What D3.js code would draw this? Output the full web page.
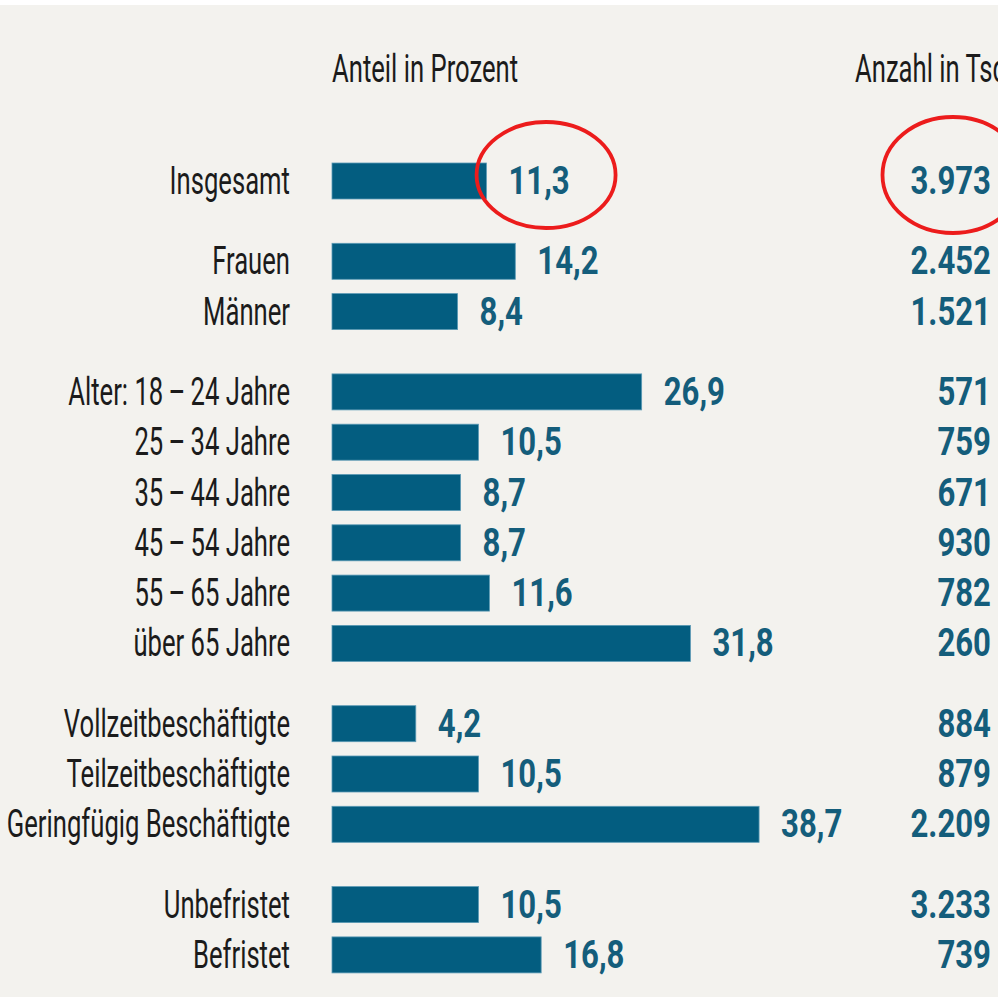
<!DOCTYPE html>
<html>
<head>
<meta charset="utf-8">
<script src="https://cdn.jsdelivr.net/npm/d3@7"></script>
<style>
  html, body { margin: 0; padding: 0; background: #ffffff; }
  svg { display: block; }
</style>
</head>
<body>
<svg id="chart" width="998" height="997"></svg>
<script>
// data
const categories = [
  "Insgesamt", "Frauen", "Männer",
  "Alter: 18\u2009–\u200924 Jahre", "25\u2009–\u200934 Jahre", "35\u2009–\u200944 Jahre",
  "45\u2009–\u200954 Jahre", "55\u2009–\u200965 Jahre", "über 65 Jahre",
  "Vollzeitbeschäftigte", "Teilzeitbeschäftigte", "Geringfügig Beschäftigte",
  "Unbefristet", "Befristet"
];
const groups = [0, 1, 1, 2, 2, 2, 2, 2, 2, 3, 3, 3, 4, 4];
const shares = [11.3, 14.2, 8.4, 26.9, 10.5, 8.7, 8.7, 11.6, 31.8, 4.2, 10.5, 38.7, 10.5, 16.8];
const counts = [3973, 2452, 1521, 571, 759, 671, 930, 782, 260, 884, 879, 2209, 3233, 739];
const headers = ["Anteil in Prozent", "Anzahl in Tsd."];
const highlighted = [0];

const W = 998, H = 997;
const FONT = "Roboto, 'Open Sans', sans-serif";
const SIZE = 38;
const K = 0.675;         // horizontal condensing, regular text
const KB = 0.82;         // horizontal condensing, bold numbers
const BLUE = "#035d80";
const TEAL = "#145d7b";
const INK = "#1b1b1b";

const de = d3.formatLocale({ decimal: ",", thousands: ".", grouping: [3], currency: ["", " €"] });
const fmtShare = de.format(".1f");
const fmtCount = de.format(",d");

const svg = d3.select("#chart");
svg.append("rect").attr("width", W).attr("height", H).attr("fill", "#f3f2ee");
svg.append("rect").attr("width", W).attr("height", 5).attr("fill", "#ffffff");

// scales
const step = 50.3, gap = 30, barH = 36, firstTop = 163;
const yTop = i => firstTop + i * step + groups[i] * gap;
const x = d3.scaleLinear().domain([0, 40]).range([374, 772]);
const stub = 42;

const rows = categories.map((c, i) => ({ c, v: shares[i], n: counts[i], i }));

function cText(sel, tx, ty, k) {
  return sel.attr("transform", `translate(${tx},${ty}) scale(${k},1)`)
    .attr("font-family", FONT).attr("font-size", SIZE);
}

// headers
cText(svg.append("text"), x(0) - stub, 82, K).attr("fill", INK).text(headers[0]);
cText(svg.append("text"), 855, 82, K).attr("fill", INK).text(headers[1]);

// bars
svg.append("g").selectAll("rect").data(rows).join("rect")
  .attr("x", x(0) - stub)
  .attr("y", d => yTop(d.i))
  .attr("width", d => x(d.v) - x(0) + stub)
  .attr("height", barH)
  .attr("fill", BLUE)
  .attr("stroke", "#5b9ab5")
  .attr("stroke-width", 0.8);

// category labels
svg.append("g").selectAll("text").data(rows).join("text")
  .each(function(d) { cText(d3.select(this), 290, yTop(d.i) + barH / 2 + 13, K); })
  .attr("text-anchor", "end")
  .attr("fill", INK)
  .text(d => d.c);

// share labels
const shareLabels = svg.append("g").selectAll("text").data(rows).join("text")
  .each(function(d) { cText(d3.select(this), x(d.v) + 22, yTop(d.i) + barH / 2 + 13, KB); })
  .attr("font-weight", "bold")
  .attr("fill", TEAL)
  .text(d => fmtShare(d.v));

// count labels
svg.append("g").selectAll("text").data(rows).join("text")
  .each(function(d) { cText(d3.select(this), 991, yTop(d.i) + barH / 2 + 13, KB); })
  .attr("text-anchor", "end")
  .attr("font-weight", "bold")
  .attr("fill", TEAL)
  .text(d => fmtCount(d.n));

// red highlight ellipses
highlighted.forEach(i => {
  const cy = yTop(i) + barH / 2 - 6;
  const node = shareLabels.filter(d => d.i === i).node();
  const w = node.getComputedTextLength() * KB;
  svg.append("ellipse")
    .attr("cx", x(shares[i]) + 22 + w / 2 + 7).attr("cy", cy)
    .attr("rx", 69.5).attr("ry", 53)
    .attr("fill", "none").attr("stroke", "#ec1c1c").attr("stroke-width", 3.8);
  svg.append("ellipse")
    .attr("cx", 953).attr("cy", cy)
    .attr("rx", 70.5).attr("ry", 58)
    .attr("fill", "none").attr("stroke", "#ec1c1c").attr("stroke-width", 3.8);
});
</script>
</body>
</html>
